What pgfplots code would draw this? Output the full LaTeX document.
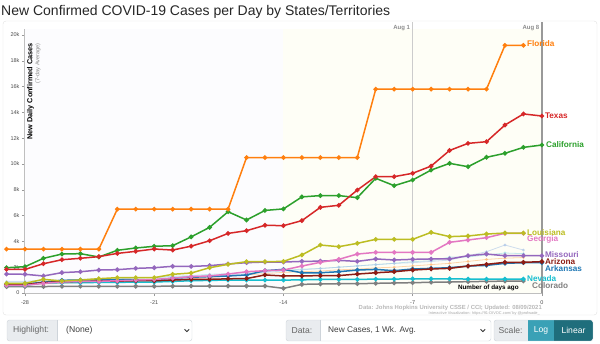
\documentclass[border=0pt]{standalone}
\usepackage{fontspec}
\setmainfont{Liberation Sans}
\usepackage{pgfplots}
\pgfplotsset{compat=1.18}
\definecolor{cFL}{HTML}{FF7F0E}
\definecolor{cTX}{HTML}{D62728}
\definecolor{cCA}{HTML}{2CA02C}
\definecolor{cLA}{HTML}{BCBD22}
\definecolor{cGA}{HTML}{E377C2}
\definecolor{cMO}{HTML}{9467BD}
\definecolor{cAZ}{HTML}{8C1C13}
\definecolor{cAR}{HTML}{1F77B4}
\definecolor{cNV}{HTML}{17BECF}
\definecolor{cCO}{HTML}{7F7F7F}
\definecolor{fA}{HTML}{AEC7E8}
\definecolor{fB}{HTML}{9EDAE5}
\definecolor{fC}{HTML}{FFBB78}
\definecolor{bgL}{HTML}{FCFCFE}
\definecolor{bgR}{HTML}{FEFEF6}
\definecolor{ctlBorder}{HTML}{CED4DA}
\definecolor{ctlLabel}{HTML}{E9ECEF}
\definecolor{btnLog}{HTML}{3AA1B6}
\definecolor{btnLin}{HTML}{1F6E7C}
\pgfplotsset{
  st/.style={#1, line width=1.5pt, mark=*, mark size=1.5pt, mark options={solid, fill=#1}},
  fst/.style={#1, line width=0.8pt, mark=*, mark size=1pt, mark options={solid, fill=#1}, opacity=0.6},
}
\begin{document}
\begin{tikzpicture}
% title
\node[anchor=base west, inner sep=0pt, font=\fontsize{14}{16}\selectfont, text=black!85] at (1pt,-15.5pt) {New Confirmed COVID-19 Cases per Day by States/Territories};
% panel border
\draw[color=black!12, rounded corners=3pt] (3pt,-21pt) rectangle (597pt,-315pt);

\begin{axis}[
  at={(25pt,-293pt)}, anchor=south west,
  x=18.46pt, y=12.9pt,
  xmin=-28, xmax=0, ymin=0, ymax=20.5,
  clip=false, set layers,
  axis x line*=bottom, axis y line*=left,
  axis line style={draw=black!25, line width=1.2pt, -},
  xtick={-28,-21,-14,-7,0},
  xticklabels={-28,-21,-14,-7,0},
  ytick={0,2,...,20},
  yticklabels={0,2k,4k,6k,8k,10k,12k,14k,16k,18k,20k},
  tick label style={font=\fontsize{5.5}{6}\selectfont, text=black!70},
  /pgf/number format/assume math mode=true,
  ymajorgrids, xmajorgrids,
  grid style={draw=black!7, line width=0.7pt},
  tick style={draw=black!40, line width=0.6pt},
  major tick length=3pt,
  tick align=outside,
  xticklabel style={yshift=-1pt},
  yticklabel style={xshift=1pt},
]
\fill[bgL, on layer=axis background] (axis cs:-28,0) rectangle (axis cs:-14,20.5);
\fill[bgR, on layer=axis background] (axis cs:-14,0) rectangle (axis cs:0,20.5);
\draw[black!20, line width=1pt] (axis cs:-7,0) -- (axis cs:-7,21.0);
\draw[black!40, line width=1.4pt] (axis cs:0,0) -- (axis cs:0,21.0);
\node[anchor=east, inner sep=0pt, font=\bfseries\fontsize{6}{7}\selectfont, text=black!45] at (axis cs:-7,20.54) [xshift=-2.5pt] {Aug 1};
\node[anchor=east, inner sep=0pt, font=\bfseries\fontsize{6}{7}\selectfont, text=black!45] at (axis cs:0,20.54) [xshift=-2.5pt] {Aug 8};

% faint background states
\addplot[fst=fC] coordinates {(-29,0.6)(-28,0.6)(-27,0.7)(-26,0.75)(-25,0.8)(-24,0.85)(-23,0.9)(-22,0.95)(-21,1.0)(-20,1.05)(-19,1.1)(-18,1.2)(-17,1.3)(-16,1.4)(-15,1.5)(-14,1.6)(-13,1.65)(-12,1.7)(-11,1.8)(-10,1.85)(-9,1.95)(-8,2.0)(-7,2.1)(-6,2.2)(-5,2.3)(-4,2.45)(-3,2.6)(-2,2.7)(-1,2.75)};
\addplot[fst=fB] coordinates {(-29,0.8)(-28,0.8)(-27,0.9)(-26,0.95)(-25,1.0)(-24,1.05)(-23,1.1)(-22,1.15)(-21,1.2)(-20,1.3)(-19,1.35)(-18,1.45)(-17,1.5)(-16,1.6)(-15,1.7)(-14,1.75)(-13,1.85)(-12,1.9)(-11,2.0)(-10,2.1)(-9,2.2)(-8,2.3)(-7,2.43)(-6,2.5)(-5,2.78)(-4,2.8)(-3,2.95)(-2,3.1)(-1,3.05)};
\addplot[fst=fA] coordinates {(-29,0.9)(-28,0.9)(-27,1.0)(-26,1.0)(-25,1.05)(-24,1.1)(-23,1.1)(-22,1.15)(-21,1.2)(-20,1.25)(-19,1.3)(-18,1.35)(-17,1.4)(-16,1.5)(-15,1.6)(-14,1.7)(-13,1.8)(-12,1.9)(-11,2.0)(-10,2.1)(-9,2.2)(-8,2.3)(-7,2.35)(-6,2.45)(-5,2.55)(-4,2.89)(-3,3.2)(-2,3.72)(-1,3.33)};

% Colorado
\addplot[st=cCO] coordinates {(-29,0.49)(-28,0.5)(-27,0.5)(-26,0.52)(-25,0.52)(-24,0.52)(-23,0.52)(-22,0.52)(-21,0.52)(-20,0.53)(-19,0.54)(-18,0.54)(-17,0.54)(-16,0.54)(-15,0.54)(-14,0.36)(-13,0.67)(-12,0.7)(-11,0.72)(-10,0.72)(-9,0.75)(-8,0.78)(-7,0.8)(-6,0.83)(-5,0.85)(-4,0.88)(-3,0.9)(-2,0.92)(-1,0.93)};
% Nevada
\addplot[st=cNV] coordinates {(-29,0.6)(-28,0.6)(-27,0.78)(-26,0.8)(-25,0.8)(-24,0.82)(-23,0.82)(-22,0.85)(-21,0.85)(-20,0.9)(-19,0.95)(-18,0.98)(-17,1.0)(-16,1.0)(-15,1.0)(-14,1.0)(-13,1.02)(-12,1.05)(-11,1.05)(-10,1.05)(-9,1.08)(-8,1.08)(-7,1.1)(-6,1.1)(-5,1.1)(-4,1.08)(-3,1.08)(-2,1.08)(-1,1.08)};
% Arkansas
\addplot[st=cAR] coordinates {(-29,0.7)(-28,0.7)(-27,0.83)(-26,0.98)(-25,1.01)(-24,1.01)(-23,1.01)(-22,1.01)(-21,1.01)(-20,1.14)(-19,1.22)(-18,1.27)(-17,1.32)(-16,1.4)(-15,1.73)(-14,1.83)(-13,1.57)(-12,1.57)(-11,1.65)(-10,1.78)(-9,1.83)(-8,1.73)(-7,1.86)(-6,1.91)(-5,1.96)(-4,2.09)(-3,2.14)(-2,2.3)(-1,2.35)(0,2.35)};
% Arizona
\addplot[st=cAZ] coordinates {(-29,0.65)(-28,0.65)(-27,0.8)(-26,0.88)(-25,0.9)(-24,0.92)(-23,0.92)(-22,0.95)(-21,0.95)(-20,1.0)(-19,1.06)(-18,1.06)(-17,1.1)(-16,1.12)(-15,1.4)(-14,1.32)(-13,1.32)(-12,1.35)(-11,1.35)(-10,1.47)(-9,1.57)(-8,1.65)(-7,1.78)(-6,1.86)(-5,1.91)(-4,2.09)(-3,2.22)(-2,2.38)(-1,2.38)(0,2.43)};
% Missouri
\addplot[st=cMO] coordinates {(-29,1.47)(-28,1.45)(-27,1.32)(-26,1.58)(-25,1.65)(-24,1.78)(-23,1.81)(-22,1.91)(-21,1.96)(-20,2.07)(-19,2.06)(-18,2.12)(-17,2.25)(-16,2.35)(-15,2.4)(-14,2.4)(-13,2.45)(-12,2.47)(-11,2.53)(-10,2.45)(-9,2.64)(-8,2.56)(-7,2.61)(-6,2.64)(-5,2.64)(-4,2.89)(-3,3.02)(-2,2.89)(-1,2.89)(0,2.89)};
% Georgia
\addplot[st=cGA] coordinates {(-29,0.6)(-28,0.6)(-27,0.75)(-26,0.85)(-25,0.9)(-24,0.9)(-23,0.95)(-22,1.0)(-21,1.05)(-20,1.15)(-19,1.27)(-18,1.32)(-17,1.47)(-16,1.65)(-15,1.73)(-14,1.78)(-13,2.09)(-12,2.38)(-11,2.61)(-10,3.02)(-9,3.15)(-8,3.15)(-7,3.15)(-6,3.15)(-5,3.93)(-4,4.11)(-3,4.29)(-2,4.63)(-1,4.63)};
% Louisiana
\addplot[st=cLA] coordinates {(-29,0.75)(-28,0.75)(-27,1.06)(-26,0.93)(-25,1.01)(-24,1.11)(-23,1.19)(-22,1.19)(-21,1.19)(-20,1.45)(-19,1.55)(-18,1.96)(-17,2.22)(-16,2.43)(-15,2.43)(-14,2.45)(-13,2.95)(-12,3.72)(-11,3.59)(-10,3.85)(-9,4.16)(-8,4.16)(-7,4.16)(-6,4.7)(-5,4.37)(-4,4.42)(-3,4.57)(-2,4.65)(-1,4.65)};
% California
\addplot[st=cCA] coordinates {(-29,1.96)(-28,2.04)(-27,2.69)(-26,3.02)(-25,3.05)(-24,2.79)(-23,3.31)(-22,3.49)(-21,3.62)(-20,3.67)(-19,4.35)(-18,5.09)(-17,6.3)(-16,5.66)(-15,6.4)(-14,6.52)(-13,7.45)(-12,7.55)(-11,7.55)(-10,7.39)(-9,8.89)(-8,8.32)(-7,8.76)(-6,9.53)(-5,10.05)(-4,9.79)(-3,10.52)(-2,10.83)(-1,11.29)(0,11.47)};
% Texas
\addplot[st=cTX] coordinates {(-29,1.83)(-28,1.83)(-27,2.27)(-26,2.58)(-25,2.69)(-24,2.82)(-23,3.07)(-22,3.23)(-21,3.41)(-20,3.33)(-19,3.63)(-18,4.05)(-17,4.62)(-16,4.83)(-15,5.25)(-14,5.22)(-13,5.61)(-12,6.64)(-11,6.8)(-10,7.98)(-9,9.02)(-8,9.02)(-7,9.28)(-6,9.84)(-5,11.05)(-4,11.6)(-3,11.73)(-2,13.02)(-1,13.88)(0,13.72)};
% Florida
\addplot[st=cFL] coordinates {(-29,3.4)(-28,3.4)(-27,3.4)(-26,3.4)(-25,3.4)(-24,3.4)(-23,6.5)(-22,6.5)(-21,6.5)(-20,6.5)(-19,6.5)(-18,6.5)(-17,6.5)(-16,10.5)(-15,10.5)(-14,10.5)(-13,10.5)(-12,10.5)(-11,10.5)(-10,10.5)(-9,15.8)(-8,15.8)(-7,15.8)(-6,15.8)(-5,15.8)(-4,15.8)(-3,15.8)(-2,19.2)(-1,19.2)};

% labels
\tikzset{lab/.style={anchor=west, inner sep=0pt, font=\bfseries\fontsize{8.2}{9}\selectfont, text=#1}}
\node[lab=cFL] at (axis cs:-0.81,19.3) {Florida};
\node[lab=cTX] at (axis cs:0.16,13.72) {Texas};
\node[lab=cCA] at (axis cs:0.22,11.47) {California};
\node[lab=cLA] at (axis cs:-0.81,4.7) {Louisiana};
\node[lab=cGA] at (axis cs:-0.81,4.12) {Georgia};
\node[lab=cMO] at (axis cs:0.16,3.0) {Missouri};
\node[lab=cAZ] at (axis cs:0.16,2.44) {Arizona};
\node[lab=cAR] at (axis cs:0.16,1.9) {Arkansas};
\node[lab=cNV] at (axis cs:-0.81,1.12) {Nevada};
\node[lab=cCO] at (axis cs:-0.54,0.57) {Colorado};
\node[anchor=east, inner sep=0pt, font=\bfseries\fontsize{6.3}{7}\selectfont, text=black] at (axis cs:-1.25,0.39) {Number of days ago};
\end{axis}

% y-axis title
\node[rotate=90, anchor=east, inner sep=0pt, font=\bfseries\fontsize{7.3}{8}\selectfont, text=black] at (30.5pt,-43pt) {New Daily Confirmed Cases};
\node[rotate=90, anchor=east, inner sep=0pt, font=\fontsize{5.6}{6}\selectfont, text=black!45] at (38pt,-43pt) {(7-day Average)};

% source notes
\node[anchor=east, inner sep=0pt, font=\bfseries\fontsize{5.9}{7}\selectfont, text=black!28] at (542pt,-307.5pt) {Data: Johns Hopkins University CSSE / CCI; Updated: 08/09/2021};
\node[anchor=east, inner sep=0pt, font=\fontsize{3.9}{4}\selectfont, text=black!35] at (540pt,-313pt) {Interactive Visualization: https://91-DIVOC.com/ by @profwade\_};

% controls: Highlight
\begin{scope}
\clip[rounded corners=2.5pt] (7pt,-320pt) rectangle (192pt,-341pt);
\fill[white] (7pt,-320pt) rectangle (192pt,-341pt);
\fill[ctlLabel] (7pt,-320pt) rectangle (57pt,-341pt);
\end{scope}
\draw[ctlBorder, rounded corners=2.5pt] (7pt,-320pt) rectangle (192pt,-341pt);
\draw[ctlBorder] (57pt,-320pt) -- (57pt,-341pt);
\node[anchor=west, inner sep=0pt, font=\fontsize{8.6}{9}\selectfont, text=black!60] at (13pt,-330.5pt) {Highlight:};
\node[anchor=west, inner sep=0pt, font=\fontsize{8.6}{9}\selectfont, text=black!75] at (66pt,-330.5pt) {(None)};
\draw[black!80, line width=0.9pt] (184.5pt,-329.3pt) -- (186.8pt,-331.6pt) -- (189.1pt,-329.3pt);

% controls: Data
\begin{scope}
\clip[rounded corners=2.5pt] (286pt,-320pt) rectangle (491pt,-341pt);
\fill[white] (286pt,-320pt) rectangle (491pt,-341pt);
\fill[ctlLabel] (286pt,-320pt) rectangle (320pt,-341pt);
\end{scope}
\draw[ctlBorder, rounded corners=2.5pt] (286pt,-320pt) rectangle (491pt,-341pt);
\draw[ctlBorder] (320pt,-320pt) -- (320pt,-341pt);
\node[anchor=west, inner sep=0pt, font=\fontsize{8.6}{9}\selectfont, text=black!60] at (291.5pt,-330.5pt) {Data:};
\node[anchor=west, inner sep=0pt, font=\fontsize{8.3}{9}\selectfont, text=black!75] at (328pt,-330.5pt) {New Cases, 1 Wk. Avg.};
\draw[black!80, line width=0.9pt] (480.5pt,-329.3pt) -- (482.8pt,-331.6pt) -- (485.1pt,-329.3pt);

% controls: Scale
\begin{scope}
\clip[rounded corners=2.5pt] (494pt,-320pt) rectangle (593pt,-341pt);
\fill[ctlLabel] (494pt,-320pt) rectangle (528pt,-341pt);
\fill[btnLog] (528pt,-320pt) rectangle (554pt,-341pt);
\fill[btnLin] (554pt,-320pt) rectangle (593pt,-341pt);
\end{scope}
\draw[ctlBorder, rounded corners=2.5pt] (494pt,-320pt) rectangle (593pt,-341pt);
\node[anchor=west, inner sep=0pt, font=\fontsize{8.6}{9}\selectfont, text=black!60] at (498.5pt,-330.5pt) {Scale:};
\node[inner sep=0pt, font=\fontsize{8.6}{9}\selectfont, text=white] at (541pt,-330.5pt) {Log};
\node[inner sep=0pt, font=\fontsize{8.6}{9}\selectfont, text=white] at (573.5pt,-330.5pt) {Linear};

\pgfresetboundingbox
\useasboundingbox (0pt,0pt) rectangle (600pt,-343pt);
\end{tikzpicture}
\end{document}
